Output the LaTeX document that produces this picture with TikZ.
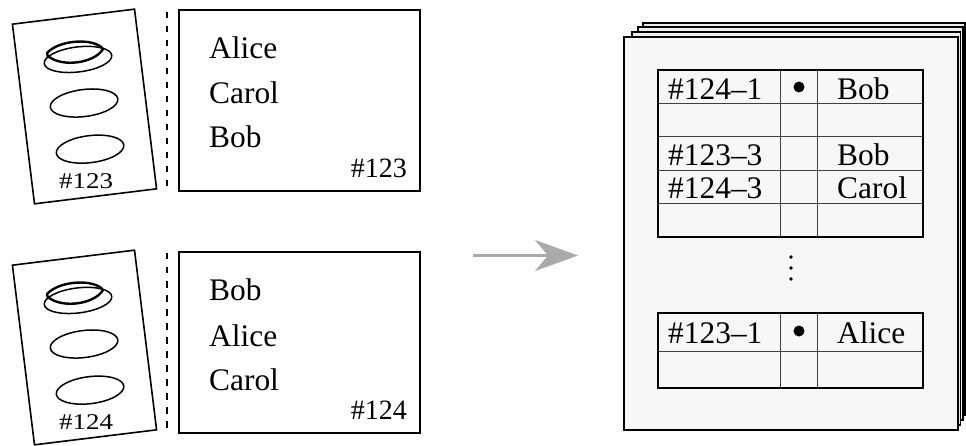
\documentclass[tikz,border=0pt]{standalone}
\usepackage{fontspec}
\setmainfont{Liberation Serif}
\newfontfamily\timesfam{Liberation Serif}
\usetikzlibrary{arrows.meta}
\definecolor{pagegray}{HTML}{F7F7F7}
\definecolor{backgray}{HTML}{EDEDED}
\definecolor{arrowgray}{HTML}{AAAAAA}
\begin{document}
\begin{tikzpicture}[x=1pt,y=-1pt,
  ballotframe/.style={draw, line width=1.6pt, fill=white},
  oval/.style={line width=1.5pt},
  votemark/.style={line width=2.4pt, line cap=round, line join=round},
  dashsep/.style={line width=2pt, dash pattern=on 6.5pt off 7.5pt},
  namebox/.style={draw, line width=1.7pt},
  nametext/.style={anchor=base west, inner sep=0pt, font=\timesfam\fontsize{31.4}{36}\selectfont},
  numtext/.style={inner sep=0pt, font=\timesfam\fontsize{28}{32}\selectfont},
  ballotnum/.style={inner sep=0pt, font=\timesfam\fontsize{22.5}{26}\selectfont},
  pagesheet/.style={draw, line width=1.6pt},
  tabouter/.style={draw, line width=1.8pt},
  tabinner/.style={draw=black!75, line width=1pt},
  celltext/.style={anchor=base west, inner sep=0pt, font=\timesfam\fontsize{31.4}{36}\selectfont},
  bulletdot/.style={circle, fill=black, inner sep=0pt, minimum size=11pt},
  smalldot/.style={circle, fill=black, inner sep=0pt, minimum size=3.6pt},
  flowarrow/.style={draw=arrowgray, line width=3.3pt, -{Stealth[length=43pt, width=31pt, inset=13pt, fill=arrowgray]}}
]
\useasboundingbox (0,0) rectangle (966,446);

% ---------- ballots ----------
\foreach \dy/\num/\nm in {0/123/b1, 241/124/b2}{
  \begin{scope}[shift={(0,\dy)}]
    \begin{scope}[shift={(84.5,106.5)}, rotate=7]
      \draw[ballotframe] (-61.5,-90.5) rectangle (61.5,90.5);
      \draw[oval] (-0.7,-47.5) ellipse [x radius=34pt, y radius=12.5pt];
      \draw[oval] (0,-3.5) ellipse [x radius=34pt, y radius=13.5pt];
      \draw[oval] (0.3,43) ellipse [x radius=34pt, y radius=13.5pt];
    \end{scope}
    \node[ballotnum, anchor=base] (\nm num) at (86.2,188.3) {\scalebox{1.2}[1]{\#\num}};
    \draw[votemark] (48,57) -- (47,53) .. controls (60,39) and (95,38) .. (103,49)
                    .. controls (95,63) and (62,68) .. (48,56);
    \draw[dashsep] (167,12) -- (167,193);
  \end{scope}
}

% ---------- name lists ----------
\draw[namebox] (179,10) rectangle (420,191);
\node[nametext] (l1a) at (209,59) {Alice};
\node[nametext] (l1b) at (209,103.5) {Carol};
\node[nametext] (l1c) at (209,148) {Bob};
\node[numtext, anchor=base east] (l1n) at (407,178) {\#123};

\draw[namebox] (179,252) rectangle (420,433);
\node[nametext] (l2a) at (209,301) {Bob};
\node[nametext] (l2b) at (209,346) {Alice};
\node[nametext] (l2c) at (209,390) {Carol};
\node[numtext, anchor=base east] (l2n) at (407,419) {\#124};

% ---------- arrow ----------
\coordinate (arrS) at (473,255.5);
\coordinate (arrE) at (578,255.5);
\draw[flowarrow] (arrS) -- (arrE);

% ---------- stacked pages ----------
\draw[pagesheet, fill=backgray] (643,23) rectangle (965.2,415);
\draw[pagesheet, fill=backgray] (638,27) rectangle (963,420);
\draw[pagesheet, fill=backgray] (632,32) rectangle (960.5,425);
\draw[pagesheet, fill=pagegray] (624,37) rectangle (958,430);

% ---------- table 1 ----------
\foreach \y in {104,137,171,204}{\draw[tabinner] (658,\y) -- (923,\y);}
\foreach \x in {780,817}{\draw[tabinner] (\x,70) -- (\x,237);}
\draw[tabouter] (658,70) rectangle (923,237);
\node[celltext] (t1a) at (668,99.5) {\#124–1};
\node[bulletdot] (t1d) at (799,87) {};
\node[celltext] (t1b) at (837,99.5) {Bob};
\node[celltext] (t3a) at (668,166) {\#123–3};
\node[celltext] (t3b) at (837,166) {Bob};
\node[celltext] (t4a) at (668,199) {\#124–3};
\node[celltext] (t4b) at (837,199) {Carol};

% ---------- vertical dots ----------
\node[smalldot] (v1) at (791,257) {};
\node[smalldot] (v2) at (791,268) {};
\node[smalldot] (v3) at (791,279) {};

% ---------- table 2 ----------
\draw[tabinner] (658,351) -- (923,351);
\foreach \x in {780,817}{\draw[tabinner] (\x,313) -- (\x,388);}
\draw[tabouter] (658,313) rectangle (923,388);
\node[celltext] (u1a) at (668,343.5) {\#123–1};
\node[bulletdot] (u1d) at (799,331) {};
\node[celltext] (u1b) at (837,343.5) {Alice};
\end{tikzpicture}
\end{document}
